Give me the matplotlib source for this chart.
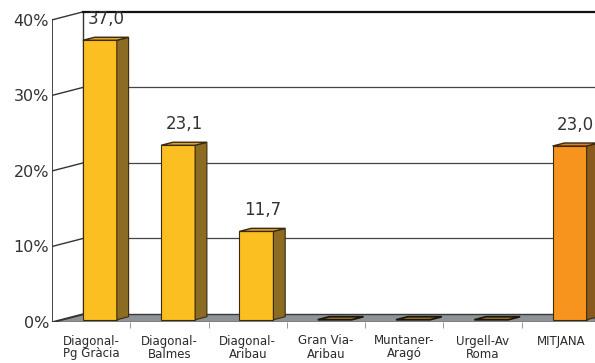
import matplotlib
matplotlib.use('Agg')
import matplotlib.pyplot as plt
from matplotlib.patches import Polygon

# data
cats = ['Diagonal-\nPg Gràcia', 'Diagonal-\nBalmes', 'Diagonal-\nAribau',
        'Gran Via-\nAribau', 'Muntaner-\nAragó', 'Urgell-Av\nRoma', 'MITJANA']
vals = [37.0, 23.1, 11.7, 0.0, 0.0, 0.0, 23.0]
yticks = [0, 10, 20, 30, 40]

# fake 3D geometry (data units)
ddx, ddy = 0.396, 1.06      # depth of the plot box
f0, f1 = 0.28, 0.66         # bar position inside the depth
bw = 0.434                  # bar width

fig = plt.figure(figsize=(5.95, 3.63), dpi=100)
ax = fig.add_axes([52/595, 41/363, 543/595, 321/363])
ax.set_xlim(-0.5, 6.435)
ax.set_ylim(0, 42.5)
for s in ax.spines.values():
    s.set_visible(False)

x_end = 6.435
# floor
floor = Polygon([(-0.5, 0), (x_end, 0), (x_end, ddy), (-0.5 + ddx, ddy)],
                closed=True, facecolor='#8e9398', edgecolor='#3a3a3a', lw=1, zorder=1)
ax.add_patch(floor)

# walls and gridlines
ax.plot([-0.5, -0.5], [0, 40], color='#444444', lw=1.4, zorder=2)
ax.plot([-0.5 + ddx, -0.5 + ddx], [ddy, 40 + ddy], color='#333333', lw=1, zorder=2)
for v in yticks:
    ax.plot([-0.5, -0.5 + ddx], [v, v + ddy], color='#333333', lw=1, zorder=2)
    if v > 0:
        lw = 1.6 if v == 40 else 0.9
        c = '#111111' if v == 40 else '#444444'
        ax.plot([-0.5 + ddx, x_end], [v + ddy, v + ddy], color=c, lw=lw, zorder=2)

# bars
bdx, bdy = (f1 - f0) * ddx, (f1 - f0) * ddy
for i, v in enumerate(vals):
    if cats[i] == 'MITJANA':
        cf, cs, ct = '#f7941d', '#8a5a1c', '#d9822a'
    else:
        cf, cs, ct = '#fbbf22', '#8c6b22', '#d9a52c'
    x0 = i - bw / 2 + f0 * ddx
    x1 = x0 + bw
    y0 = f0 * ddy
    front = [(x0, y0), (x1, y0), (x1, y0 + v), (x0, y0 + v)]
    side = [(x1, y0), (x1 + bdx, y0 + bdy), (x1 + bdx, y0 + v + bdy), (x1, y0 + v)]
    top = [(x0, y0 + v), (x1, y0 + v), (x1 + bdx, y0 + v + bdy), (x0 + bdx, y0 + v + bdy)]
    ec = '#3a2a10'
    if v > 0:
        ax.add_patch(Polygon(front, closed=True, facecolor=cf, edgecolor=ec, lw=0.8, zorder=3))
        ax.add_patch(Polygon(side, closed=True, facecolor=cs, edgecolor=ec, lw=0.8, zorder=3))
        ax.add_patch(Polygon(top, closed=True, facecolor=ct, edgecolor=ec, lw=1.0, zorder=3))
        ax.annotate(f'{v:.1f}'.replace('.', ','), (i + f0 * ddx + bdx / 2, y0 + v),
                    xytext=(0, 9), textcoords='offset points', ha='center', va='bottom',
                    fontsize=12, color='#333333', zorder=4)
    else:
        ax.add_patch(Polygon(top, closed=True, facecolor='#9a7a34', edgecolor='#1e1608',
                             lw=1.3, zorder=3))

ax.set_yticks(yticks)
ax.set_yticklabels([f'{v}%' for v in yticks], fontsize=11.5, color='#333333')
ax.set_xticks(range(len(cats)))
ax.set_xticklabels(cats, fontsize=8.5, color='#2a2a2a', linespacing=1.0)
ax.set_xticks([k - 0.5 for k in range(1, 7)], minor=True)
ax.tick_params(axis='y', length=0, pad=2)
ax.tick_params(axis='x', which='major', length=0, pad=9)
ax.tick_params(axis='x', which='minor', length=4, color='#888888')

fig.savefig('out.png', dpi=100)
